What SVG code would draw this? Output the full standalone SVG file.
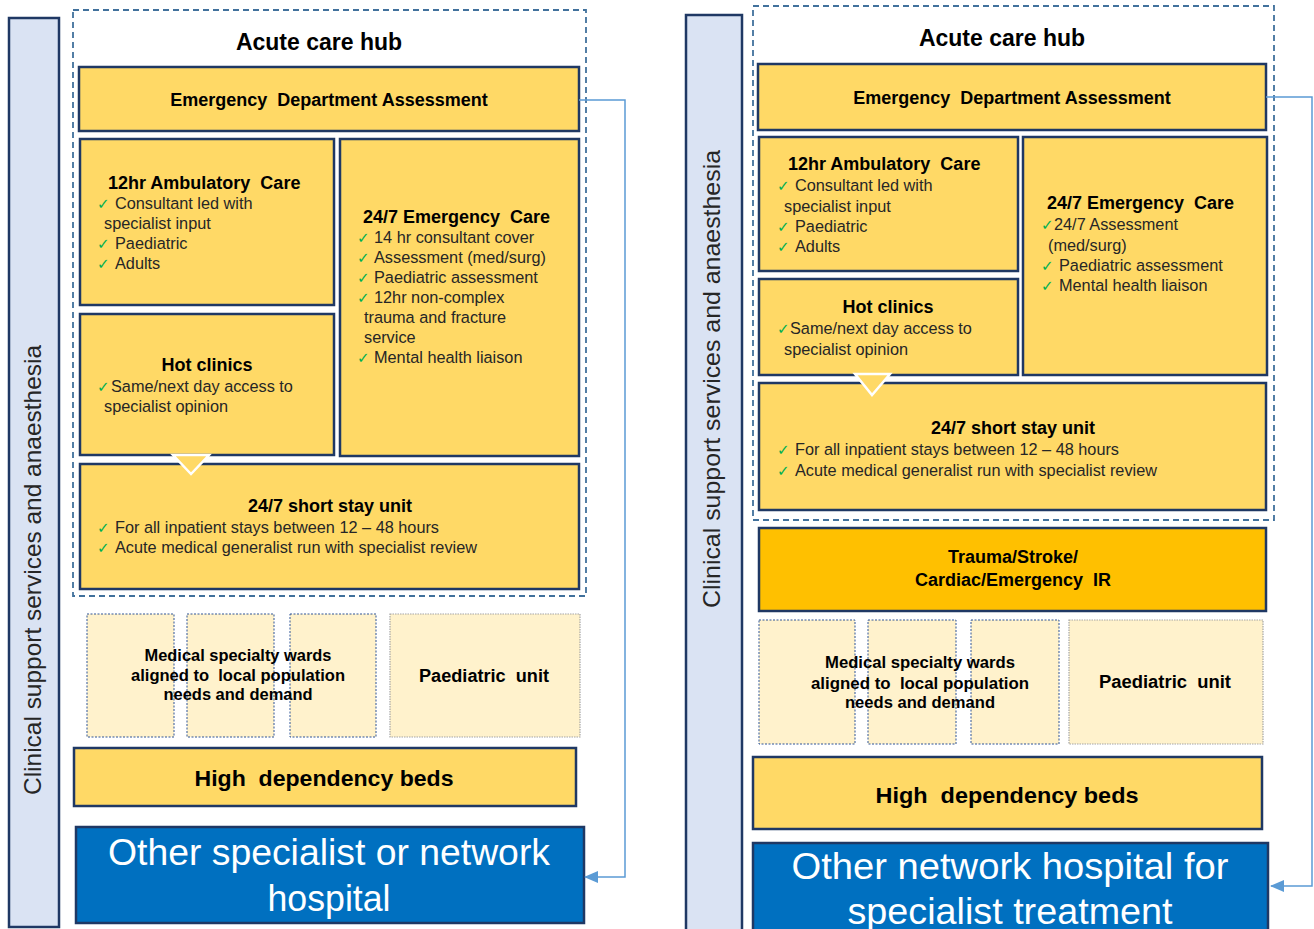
<svg xmlns="http://www.w3.org/2000/svg" width="1314" height="929" viewBox="0 0 1314 929">
<style>
.box{fill:#FFD966;stroke:#1F3864;stroke-width:2.5}
.trauma{fill:#FFC000;stroke:#1F3864;stroke-width:2.5}
.hub{fill:none;stroke:#41719C;stroke-width:1.8;stroke-dasharray:6 4}
.ward{fill:#FFF2CC;stroke:#2F5597;stroke-width:1;stroke-dasharray:2 1.5}
.paed{fill:#FFF2CC;stroke:#A5A5A5;stroke-width:1.2;stroke-dasharray:1.5 1}
.side{fill:#DAE3F3;stroke:#1F3864;stroke-width:2.5}
.blue{fill:#0070C0;stroke:#1F3864;stroke-width:2.5}
.tri{fill:#FFD966;stroke:#FFFFFF;stroke-width:2.5}
.conn{fill:none;stroke:#5B9BD5;stroke-width:1.5}
text{font-family:"Liberation Sans",Arial,sans-serif;white-space:pre}
.b{font-weight:bold;fill:#000}
.t18{font-size:18px}
.body{font-size:16.3px;fill:#262626}
.ck{fill:#00B050;font-family:"DejaVu Sans",sans-serif;font-size:15px}
.mid{text-anchor:middle}
.side-t{font-size:24px;fill:#262626;text-anchor:middle}
.big{font-size:37px;fill:#FFFFFF;text-anchor:middle}
</style>
<defs>
<marker id="arr" markerUnits="userSpaceOnUse" markerWidth="14" markerHeight="12" refX="13" refY="6" orient="auto">
<path d="M0,0 L14,6 L0,12 z" fill="#5B9BD5"/>
</marker>
</defs>

<!-- LEFT PANEL -->
<g id="left-sidebar">
<rect class="side" x="9" y="18" width="50" height="909"/>
<text class="side-t" transform="translate(41,570) rotate(-90)" textLength="450" lengthAdjust="spacingAndGlyphs">Clinical support services and anaesthesia</text>
</g>
<g id="left-hub">
<rect class="hub" x="73" y="10" width="513" height="586"/>
<text class="b mid" x="319" y="50" style="font-size:23px">Acute care hub</text>
</g>
<g id="left-ed">
<rect class="box" x="79" y="67" width="500" height="64"/>
<text class="b mid t18" x="329" y="106">Emergency  Department Assessment</text>
</g>
<g id="left-amb">
<rect class="box" x="80" y="139" width="254" height="166"/>
<text class="b t18" x="108" y="189">12hr Ambulatory  Care</text>
<text class="ck" x="97" y="209">✓</text><text class="body" x="115" y="209">Consultant led with</text>
<text class="body" x="104" y="229">specialist input</text>
<text class="ck" x="97" y="249">✓</text><text class="body" x="115" y="249">Paediatric</text>
<text class="ck" x="97" y="269">✓</text><text class="body" x="115" y="269">Adults</text>
</g>
<g id="left-emerg">
<rect class="box" x="340" y="139" width="239" height="317"/>
<text class="b t18" x="363" y="223">24/7 Emergency  Care</text>
<text class="ck" x="357" y="243">✓</text><text class="body" x="374" y="243">14 hr consultant cover</text>
<text class="ck" x="357" y="263">✓</text><text class="body" x="374" y="263">Assessment (med/surg)</text>
<text class="ck" x="357" y="283">✓</text><text class="body" x="374" y="283">Paediatric assessment</text>
<text class="ck" x="357" y="303">✓</text><text class="body" x="374" y="303">12hr non-complex</text>
<text class="body" x="364" y="323">trauma and fracture</text>
<text class="body" x="364" y="343">service</text>
<text class="ck" x="357" y="363">✓</text><text class="body" x="374" y="363">Mental health liaison</text>
</g>
<g id="left-hot">
<rect class="box" x="80" y="314" width="254" height="141"/>
<text class="b mid t18" x="207" y="371">Hot clinics</text>
<text class="ck" x="97" y="392">✓</text><text class="body" x="111" y="392">Same/next day access to</text>
<text class="body" x="104" y="412">specialist opinion</text>
</g>
<g id="left-short">
<rect class="box" x="80" y="464" width="499" height="125"/>
<polygon class="tri" points="173,455 209,455 191,474"/>
<text class="b mid t18" x="330" y="512">24/7 short stay unit</text>
<text class="ck" x="97" y="533">✓</text><text class="body" x="115" y="533">For all inpatient stays between 12 – 48 hours</text>
<text class="ck" x="97" y="553">✓</text><text class="body" x="115" y="553">Acute medical generalist run with specialist review</text>
</g>
<g id="left-wards">
<rect class="ward" x="87" y="614" width="87" height="123"/>
<rect class="ward" x="187" y="614" width="87" height="123"/>
<rect class="ward" x="290" y="614" width="86" height="123"/>
<text class="b mid" x="238" y="661" style="font-size:16px" textLength="187" lengthAdjust="spacingAndGlyphs">Medical specialty wards</text>
<text class="b mid" x="238" y="681" style="font-size:16px" textLength="214" lengthAdjust="spacingAndGlyphs">aligned to  local population</text>
<text class="b mid" x="238" y="700" style="font-size:16px" textLength="149" lengthAdjust="spacingAndGlyphs">needs and demand</text>
</g>
<g id="left-paed">
<rect class="paed" x="390" y="614" width="190" height="123"/>
<text class="b mid t18" x="484" y="682" textLength="130" lengthAdjust="spacingAndGlyphs">Paediatric  unit</text>
</g>
<g id="left-hdb">
<rect class="box" x="74" y="748" width="502" height="58"/>
<text class="b mid" x="324" y="786" style="font-size:22px" textLength="259" lengthAdjust="spacingAndGlyphs">High  dependency beds</text>
</g>
<g id="left-other">
<rect class="blue" x="76" y="827" width="508" height="96"/>
<text class="big" x="329" y="865" textLength="442" lengthAdjust="spacingAndGlyphs">Other specialist or network</text>
<text class="big" x="329" y="911" textLength="123" lengthAdjust="spacingAndGlyphs">hospital</text>
</g>

<!-- RIGHT PANEL -->
<g id="right-sidebar">
<rect class="side" x="686" y="15" width="56" height="925"/>
<text class="side-t" transform="translate(720,379) rotate(-90)" textLength="458" lengthAdjust="spacingAndGlyphs">Clinical support services and anaesthesia</text>
</g>
<g id="right-hub">
<rect class="hub" x="753" y="6" width="521" height="514"/>
<text class="b mid" x="1002" y="46" style="font-size:23px">Acute care hub</text>
</g>
<g id="right-ed">
<rect class="box" x="758" y="64" width="508" height="66"/>
<text class="b mid t18" x="1012" y="104">Emergency  Department Assessment</text>
</g>
<g id="right-amb">
<rect class="box" x="759" y="137" width="259" height="134"/>
<text class="b t18" x="788" y="170">12hr Ambulatory  Care</text>
<text class="ck" x="777" y="191">✓</text><text class="body" x="795" y="191">Consultant led with</text>
<text class="body" x="784" y="212">specialist input</text>
<text class="ck" x="777" y="232">✓</text><text class="body" x="795" y="232">Paediatric</text>
<text class="ck" x="777" y="252">✓</text><text class="body" x="795" y="252">Adults</text>
</g>
<g id="right-emerg">
<rect class="box" x="1023" y="137" width="244" height="238"/>
<text class="b t18" x="1047" y="209">24/7 Emergency  Care</text>
<text class="ck" x="1041" y="230">✓</text><text class="body" x="1054" y="230">24/7 Assessment</text>
<text class="body" x="1048" y="251">(med/surg)</text>
<text class="ck" x="1041" y="271">✓</text><text class="body" x="1059" y="271">Paediatric assessment</text>
<text class="ck" x="1041" y="291">✓</text><text class="body" x="1059" y="291">Mental health liaison</text>
</g>
<g id="right-hot">
<rect class="box" x="759" y="279" width="259" height="96"/>
<text class="b mid t18" x="888" y="313">Hot clinics</text>
<text class="ck" x="777" y="334">✓</text><text class="body" x="790" y="334">Same/next day access to</text>
<text class="body" x="784" y="355">specialist opinion</text>
</g>
<g id="right-short">
<rect class="box" x="759" y="383" width="507" height="127"/>
<polygon class="tri" points="855,374 890,374 872,395"/>
<text class="b mid t18" x="1013" y="434">24/7 short stay unit</text>
<text class="ck" x="777" y="455">✓</text><text class="body" x="795" y="455">For all inpatient stays between 12 – 48 hours</text>
<text class="ck" x="777" y="476">✓</text><text class="body" x="795" y="476">Acute medical generalist run with specialist review</text>
</g>
<g id="right-trauma">
<rect class="trauma" x="759" y="528" width="507" height="83"/>
<text class="b mid t18" x="1013" y="563">Trauma/Stroke/</text>
<text class="b mid t18" x="1013" y="586">Cardiac/Emergency  IR</text>
</g>
<g id="right-wards">
<rect class="ward" x="759" y="620" width="96" height="124"/>
<rect class="ward" x="868" y="620" width="88" height="124"/>
<rect class="ward" x="971" y="620" width="88" height="124"/>
<text class="b mid" x="920" y="668" style="font-size:16px" textLength="190" lengthAdjust="spacingAndGlyphs">Medical specialty wards</text>
<text class="b mid" x="920" y="689" style="font-size:16px" textLength="218" lengthAdjust="spacingAndGlyphs">aligned to  local population</text>
<text class="b mid" x="920" y="708" style="font-size:16px" textLength="150" lengthAdjust="spacingAndGlyphs">needs and demand</text>
</g>
<g id="right-paed">
<rect class="paed" x="1069" y="620" width="194" height="124"/>
<text class="b mid t18" x="1165" y="688" textLength="132" lengthAdjust="spacingAndGlyphs">Paediatric  unit</text>
</g>
<g id="right-hdb">
<rect class="box" x="753" y="757" width="509" height="72"/>
<text class="b mid" x="1007" y="803" style="font-size:22px" textLength="263" lengthAdjust="spacingAndGlyphs">High  dependency beds</text>
</g>
<g id="right-other">
<rect class="blue" x="753" y="843" width="515" height="100"/>
<text class="big" x="1010" y="879" textLength="437" lengthAdjust="spacingAndGlyphs">Other network hospital for</text>
<text class="big" x="1010" y="924" textLength="325" lengthAdjust="spacingAndGlyphs">specialist treatment</text>
</g>

<g id="connectors">
<polyline class="conn" points="579,100 625,100 625,877 585,877" marker-end="url(#arr)"/>
<polyline class="conn" points="1266,97 1312,97 1312,886 1271,886" marker-end="url(#arr)"/>
</g>
</svg>
